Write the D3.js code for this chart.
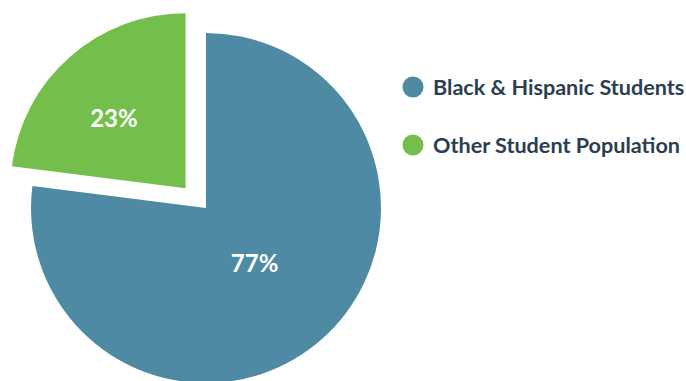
<!DOCTYPE html>
<html>
<head>
<meta charset="utf-8">
<script src="https://cdn.jsdelivr.net/npm/d3@7"></script>
<style>
  html, body { margin: 0; padding: 0; background: #fff; }
  svg { display: block; }
</style>
</head>
<body>
<svg id="chart" width="686" height="381"></svg>
<script>
// Share of the student population
const categories = ["Black & Hispanic Students", "Other Student Population"];
const shares = [77, 23];
const colors = ["#4f8aa4", "#74bf4b"];
const valueLabels = ["77%", "23%"];

const width = 686, height = 381;
const svg = d3.select("#chart");

const radius = 175;
const cx = 206, cy = 208;
const explodeDistance = [0, 28.5];   // pull-out of each slice
const labelRadius = [0.42, 0.57];    // label distance as a fraction of the radius
const angleNudge = [0, -4.5];        // degrees added to the slice mid-angle

const pie = d3.pie().sort(null).value(d => d)(shares);
const arc = d3.arc().innerRadius(0).outerRadius(radius);

const midAngle = (d, i) => (d.startAngle + d.endAngle) / 2 + angleNudge[i] * Math.PI / 180;

const g = svg.append("g").attr("transform", `translate(${cx},${cy})`);

const slices = g.selectAll("g.slice")
  .data(pie)
  .join("g")
  .attr("class", "slice")
  .attr("transform", (d, i) => {
    const a = midAngle(d, i);
    const e = explodeDistance[i];
    return `translate(${Math.sin(a) * e},${-Math.cos(a) * e})`;
  });

slices.append("path")
  .attr("d", arc)
  .attr("fill", (d, i) => colors[i]);

slices.append("text")
  .attr("transform", (d, i) => {
    const a = midAngle(d, i);
    const r = radius * labelRadius[i];
    return `translate(${Math.sin(a) * r},${-Math.cos(a) * r})`;
  })
  .attr("text-anchor", "middle")
  .attr("dy", "0.36em")
  .attr("fill", "#ffffff")
  .style("font-family", "Lato, sans-serif")
  .style("font-weight", 700)
  .style("font-size", "24px")
  .text((d, i) => valueLabels[i]);

// Legend
const legend = svg.append("g").attr("transform", "translate(413,87)");
const item = legend.selectAll("g")
  .data(categories)
  .join("g")
  .attr("transform", (d, i) => `translate(0,${i * 58})`);

item.append("circle")
  .attr("r", 10.5)
  .attr("fill", (d, i) => colors[i]);

item.append("text")
  .attr("x", 20)
  .attr("dy", "0.36em")
  .attr("fill", "#2b3e50")
  .style("font-family", "Lato, sans-serif")
  .style("font-weight", 700)
  .style("font-size", "21.6px")
  .text(d => d);
</script>
</body>
</html>
